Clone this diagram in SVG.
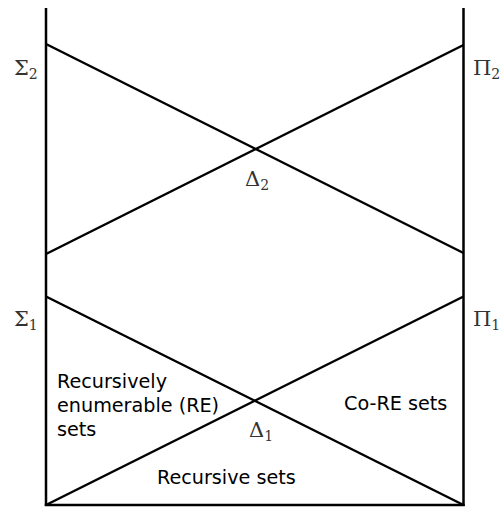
<svg xmlns="http://www.w3.org/2000/svg" width="501" height="507" viewBox="0 0 501 507">
<style>
.ln{stroke:#000;stroke-width:2.5;fill:none;stroke-linecap:butt}
.gk{font-family:"DejaVu Serif","Liberation Serif",serif;font-size:21px;fill:#333}
.sb{font-size:14px}
.tx{font-family:"DejaVu Sans",sans-serif;font-size:19.2px;fill:#000}
</style>
<rect width="501" height="507" fill="#fff"/>
<g id="connectors">
<line class="ln" x1="46" y1="8" x2="46" y2="506"/>
<line class="ln" x1="463.5" y1="8" x2="463.5" y2="506"/>
<line class="ln" x1="44.8" y1="505" x2="464.7" y2="505"/>
<line class="ln" x1="46" y1="44" x2="463.5" y2="253"/>
<line class="ln" x1="46" y1="254" x2="463.5" y2="45"/>
<line class="ln" x1="46" y1="296.5" x2="463.5" y2="505"/>
<line class="ln" x1="46" y1="505" x2="463.5" y2="296.5"/>
</g>
<g id="sigma2"><text class="gk" x="14" y="75">Σ<tspan class="sb" dy="4">2</tspan></text></g>
<g id="pi2"><text class="gk" x="473" y="75">Π<tspan class="sb" dy="4">2</tspan></text></g>
<g id="delta2"><text class="gk" x="245" y="186">Δ<tspan class="sb" dy="4">2</tspan></text></g>
<g id="sigma1"><text class="gk" x="14" y="326">Σ<tspan class="sb" dy="4">1</tspan></text></g>
<g id="pi1"><text class="gk" x="473" y="326">Π<tspan class="sb" dy="4">1</tspan></text></g>
<g id="delta1"><text class="gk" x="249" y="437">Δ<tspan class="sb" dy="4">1</tspan></text></g>
<g id="re"><text class="tx" x="57" y="388">Recursively</text><text class="tx" x="57" y="412">enumerable (RE)</text><text class="tx" x="57" y="436">sets</text></g>
<g id="core"><text class="tx" x="344" y="410">Co-RE sets</text></g>
<g id="rec"><text class="tx" x="157" y="484">Recursive sets</text></g>
</svg>
